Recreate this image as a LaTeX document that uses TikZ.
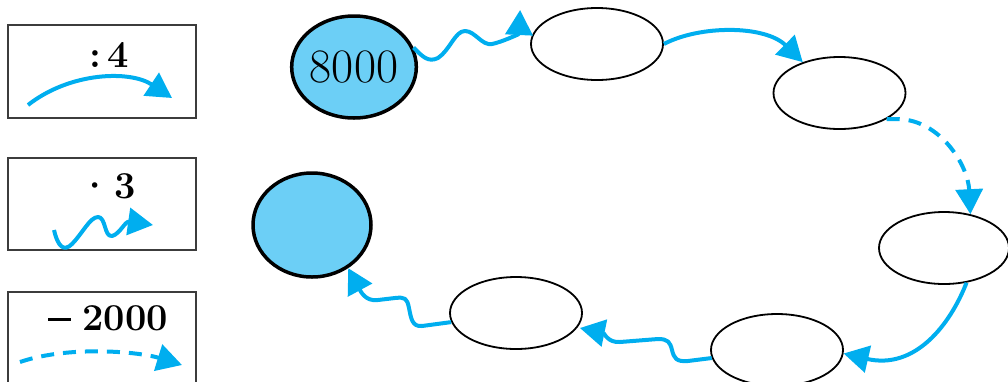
\documentclass[tikz,border=0pt]{standalone}
\usetikzlibrary{shapes.geometric,arrows.meta,calc}
\definecolor{arr}{RGB}{0,174,239}
\definecolor{fillb}{RGB}{108,207,246}
\definecolor{boxc}{RGB}{60,60,60}
\tikzset{
  ell/.style={ellipse,draw=black,line width=1.8pt,minimum width=132pt,minimum height=72pt,inner sep=0pt},
  bigell/.style={ellipse,draw=black,fill=fillb,line width=3.5pt,inner sep=0pt},
  conn/.style={draw=arr,line width=4pt,line join=round,-{Triangle[length=25pt,width=27pt]}},
  dashconn/.style={conn,dash pattern=on 13pt off 9pt},
  legbox/.style={draw=boxc,line width=1.3pt,rectangle,minimum width=188pt,inner sep=0pt},
  legtext/.style={font=\fontsize{38}{44}\selectfont\bfseries,inner sep=0pt},
}
\begin{document}
\begin{tikzpicture}[x=1pt,y=-1pt]
\useasboundingbox (0,0) rectangle (1008,381);
% legend
\node[legbox,minimum height=93pt] (b1) at (102,71.5) {};
\node[legbox,minimum height=92pt] (b2) at (102,204) {};
\draw[draw=boxc,line width=1.3pt] (8,392) -- (8,292) -- (196,292) -- (196,392);
\node[legtext] (t1) at (109,55) {:\,4};
\node[legtext] (t2) at (107,186) {·\kern3pt3};
\node[legtext] (t3) at (108,318) {\rule[0.24em]{23pt}{3pt}\hspace{11pt}2000};
\coordinate (l1s) at (28,105);
\coordinate (l1e) at (172,98);
\coordinate (l2s) at (54,230);
\coordinate (l2e) at (153,225);
\coordinate (l3s) at (20,362);
\coordinate (l3e) at (182,365);
\draw[conn] (l1s) .. controls (70,72) and (130,70) .. (l1e);
\draw[conn] (l2s) .. controls (58,247) and (64,252) .. (72,244) .. controls (82,234) and (90,217) .. (98,217) .. controls (106,217) and (104,237) .. (112,236) .. controls (120,234) and (125,221) .. (l2e);
\draw[dashconn] (l3s) .. controls (70,345) and (140,352) .. (l3e);
% main nodes
\node[bigell,minimum width=118pt,minimum height=102pt] (n0) at (354,67) {\raisebox{-3pt}{\fontsize{48}{56}\selectfont 8000}};
\node[ell] (n1) at (597,44) {};
\node[ell] (n2) at (839.5,93) {};
\node[ell,minimum width=130pt] (n3) at (944,248) {};
\node[ell] (n4) at (777,350) {};
\node[ell] (n5) at (516,313) {};
\node[bigell,minimum width=118pt,minimum height=104pt] (n6) at (312,225) {};
\coordinate (a1tip) at ($(n1.west)+(-10,-34)$);
\coordinate (a5tip) at ($(n5.east)+(-3,15)$);
% connectors
\draw[conn] (n0.18) .. controls (422,56) and (428,63) .. (438,58) .. controls (450,50) and (455,31) .. (465,31) .. controls (475,31) and (482,46) .. (492,44) .. controls (502,42) and (519,34) .. (a1tip);
\draw[conn] (n1.east) .. controls (700,25) and (765,25) .. (n2.140);
\draw[dashconn] (n2.-29) -- ++(12,0) .. controls (940,120) and (968,165) .. (n3.52);
\draw[conn] (n3.-57) .. controls (950,325) and (915,370) .. (n4.-3);
\draw[conn] (n4.187) -- (688,361) .. controls (676,362) and (674,358) .. (672,350) .. controls (670,342) and (668,339) .. (658,339) -- (620,342) .. controls (608,343) and (604,333) .. (a5tip);
\draw[conn] (n5.188) -- (422,326) .. controls (412,327) and (411,318) .. (409,308) .. controls (407,298) and (405,297) .. (395,298) -- (378,300) .. controls (365,302) and (360,290) .. (n6.-50);
\end{tikzpicture}
\end{document}
